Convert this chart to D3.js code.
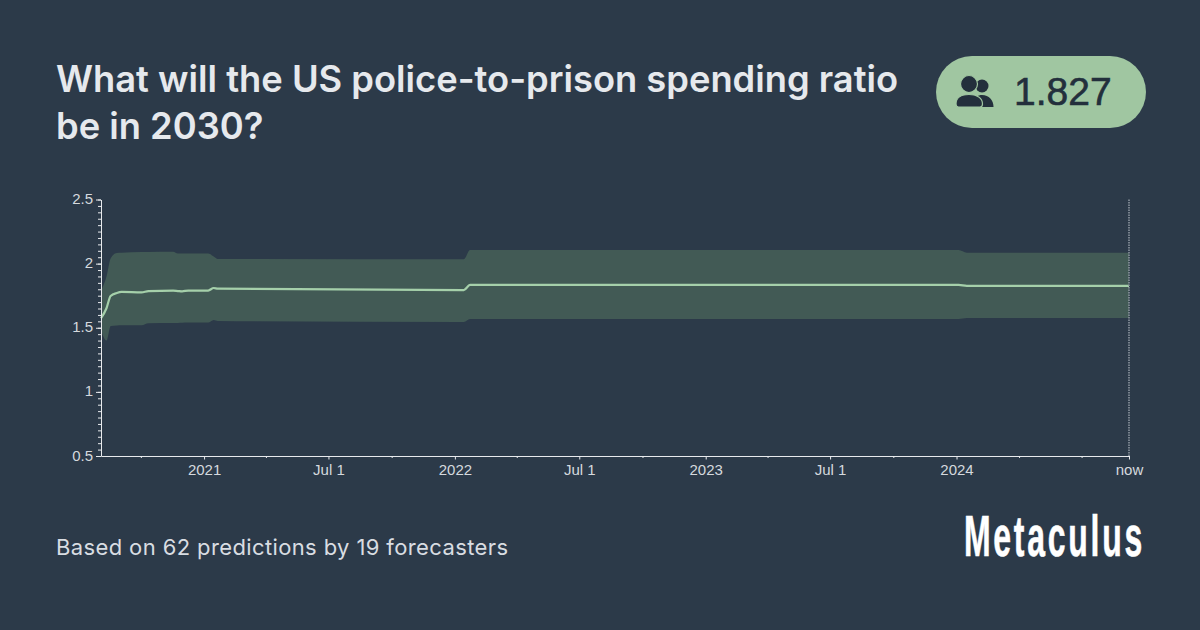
<!DOCTYPE html>
<html>
<head>
<meta charset="utf-8">
<title>Metaculus</title>
<script src="https://cdn.jsdelivr.net/npm/d3@7"></script>
<style>
  html, body { margin: 0; padding: 0; background: #2c3a49; overflow: hidden; }
  svg { display: block; }
  .title { font-family: Inter, sans-serif; font-size: 36.3px; font-weight: 600; fill: #e6e9ed; }
  .footer { font-family: Inter, sans-serif; font-size: 22px; font-weight: 400; letter-spacing: 0.38px; fill: #d9dde2; }
  .axis text { font-family: "Liberation Sans", Arial, sans-serif; font-size: 15px; fill: #d5d9de; }
  .axis path, .axis line { stroke: #e8eaed; stroke-width: 1; }
</style>
</head>
<body>
<div id="chart-area"></div>
<script>
// values
const titleLines = ["What will the US police-to-prison spending ratio", "be in 2030?"];
const footerText = "Based on 62 predictions by 19 forecasters";
const communityValue = "1.827";

const forecastDates = ["2020-08-04", "2020-08-12", "2020-08-18", "2020-08-27", "2020-09-03", "2020-10-02",
  "2020-10-12", "2020-11-17", "2020-11-24", "2020-11-30", "2020-12-09", "2021-01-07", "2021-01-15",
  "2021-01-21", "2022-01-14", "2022-01-23", "2024-01-04", "2024-01-16", "2024-09-08"];
const medianValues = [1.574, 1.652, 1.748, 1.771, 1.779, 1.776, 1.786, 1.789, 1.786, 1.784, 1.79, 1.79, 1.81,
  1.805, 1.794, 1.834, 1.834, 1.827, 1.827];
const upperValues = [1.79, 1.9, 2.04, 2.083, 2.085, 2.09, 2.091, 2.093, 2.078, 2.078, 2.078, 2.078, 2.055,
  2.036, 2.034, 2.106, 2.106, 2.085, 2.085];
const lowerValues = [1.48, 1.4, 1.514, 1.518, 1.519, 1.519, 1.535, 1.538, 1.538, 1.539, 1.54, 1.54, 1.56,
  1.553, 1.545, 1.568, 1.568, 1.576, 1.576];

const majorTickDates = ["2021-01-01", "2021-07-01", "2022-01-01", "2022-07-01", "2023-01-01", "2023-07-01", "2024-01-01", "2024-09-08"];
const majorTickLabels = ["2021", "Jul 1", "2022", "Jul 1", "2023", "Jul 1", "2024", "now"];
const minorTickDates = ["2020-10-01", "2021-04-01", "2021-10-01", "2022-04-01", "2022-10-01", "2023-04-01", "2023-10-01", "2024-04-01", "2024-07-01"];
const yDomain = [0.5, 2.5];
const yMajorTicks = [0.5, 1, 1.5, 2, 2.5];
const yMinorStep = 0.05;

const parseDay = d3.utcParse("%Y-%m-%d");

const width = 1200, height = 630;
const plot = { left: 101, right: 1129, top: 199.5, bottom: 456 };

const svg = d3.select("#chart-area").append("svg")
  .attr("width", width)
  .attr("height", height);

// Title
svg.append("text").attr("class", "title")
  .selectAll("tspan")
  .data(titleLines)
  .enter()
  .append("tspan")
  .attr("x", 56)
  .attr("y", (d, i) => 92 + i * 47)
  .text(d => d);

// Community value pill
svg.append("rect")
  .attr("x", 936).attr("y", 56)
  .attr("width", 210).attr("height", 72)
  .attr("rx", 36)
  .attr("fill", "#a0c6a1");

const icon = svg.append("g").attr("fill", "#232f3c");
icon.append("circle").attr("cx", 982).attr("cy", 86).attr("r", 6.5);
icon.append("path").attr("d", "M975 107 L993.5 107 C993.5 100 989 95 982 95 C978 95 975 97 975 101 Z");
icon.append("circle").attr("cx", 969).attr("cy", 84).attr("r", 8.5).attr("stroke", "#a0c6a1").attr("stroke-width", 1.2);
icon.append("path").attr("d", "M956 104 C956 98 961 94.5 969 94.5 C977 94.5 982.5 98 982.5 104 Q982.5 107 980 107 L958.5 107 Q956 107 956 104 Z")
  .attr("stroke", "#a0c6a1").attr("stroke-width", 1.2);

svg.append("text")
  .attr("x", 1014).attr("y", 105)
  .attr("font-family", "'Liberation Sans', Arial, sans-serif")
  .attr("font-size", 39)
  .attr("fill", "#232f3c")
  .attr("stroke", "#232f3c")
  .attr("stroke-width", 0.6)
  .text(communityValue);

// Scales
const x = d3.scaleUtc()
  .domain([parseDay(forecastDates[0]), parseDay(forecastDates[forecastDates.length - 1])])
  .range([plot.left, plot.right]);

const y = d3.scaleLinear()
  .domain(yDomain)
  .range([plot.bottom, plot.top]);

// Forecast band and median
const band = d3.area()
  .x((d, i) => x(parseDay(forecastDates[i])))
  .y0((d, i) => y(lowerValues[i]))
  .y1((d, i) => y(upperValues[i]))
  .curve(d3.curveMonotoneX);

svg.append("path")
  .datum(forecastDates)
  .attr("d", band)
  .attr("fill", "#425a55");

const medianLine = d3.line()
  .x((d, i) => x(parseDay(forecastDates[i])))
  .y(d => y(d))
  .curve(d3.curveMonotoneX);

svg.append("path")
  .datum(medianValues)
  .attr("d", medianLine)
  .attr("fill", "none")
  .attr("stroke", "#a5d0aa")
  .attr("stroke-width", 2.2);

// "now" marker
svg.append("line")
  .attr("x1", x.range()[1]).attr("x2", x.range()[1])
  .attr("y1", plot.top).attr("y2", plot.bottom)
  .attr("stroke", "#8b949e")
  .attr("stroke-width", 1.6)
  .attr("stroke-dasharray", "1.5 1");

// Y Axis: minor ticks first, majors on top
const yMinorTicks = d3.range(yDomain[0], yDomain[1] + yMinorStep / 2, yMinorStep);

svg.append("g")
  .attr("class", "y axis minor")
  .attr("transform", "translate(" + plot.left + ",0)")
  .call(d3.axisLeft(y).tickValues(yMinorTicks).tickSize(3).tickSizeOuter(0).tickFormat(""));

svg.append("g")
  .attr("class", "y axis")
  .attr("transform", "translate(" + plot.left + ",0)")
  .call(d3.axisLeft(y).tickValues(yMajorTicks).tickSize(5).tickSizeOuter(0).tickPadding(3).tickFormat(d3.format("")))
  .call(g => g.select(".domain").remove())
  .call(g => g.selectAll("text").attr("dy", "0.27em"));

// X Axis
svg.append("g")
  .attr("class", "x axis minor")
  .attr("transform", "translate(0," + plot.bottom + ")")
  .call(d3.axisBottom(x).tickValues(minorTickDates.map(parseDay)).tickSize(2).tickSizeOuter(0).tickFormat(""));

svg.append("g")
  .attr("class", "x axis")
  .attr("transform", "translate(0," + plot.bottom + ")")
  .call(d3.axisBottom(x)
    .tickValues(majorTickDates.map(parseDay))
    .tickSize(3.5)
    .tickSizeOuter(0)
    .tickPadding(5)
    .tickFormat((d, i) => majorTickLabels[i]))
  .call(g => g.select(".domain").remove());

// Footer
svg.append("text").attr("class", "footer")
  .attr("x", 56).attr("y", 555)
  .text(footerText);

// Logo wordmark, squeezed to the width of the condensed original
const logo = svg.append("text")
  .attr("font-family", "'Liberation Sans', Arial, sans-serif")
  .attr("font-weight", 700)
  .attr("font-size", 58)
  .attr("letter-spacing", 5)
  .attr("fill", "#ffffff")
  .attr("stroke", "#ffffff")
  .attr("stroke-width", 0.6)
  .text("Metaculus");

const logoLength = logo.node().getComputedTextLength();
logo.attr("transform", "translate(964,556) scale(" + (181 / logoLength) + ",1)");
</script>
</body>
</html>
